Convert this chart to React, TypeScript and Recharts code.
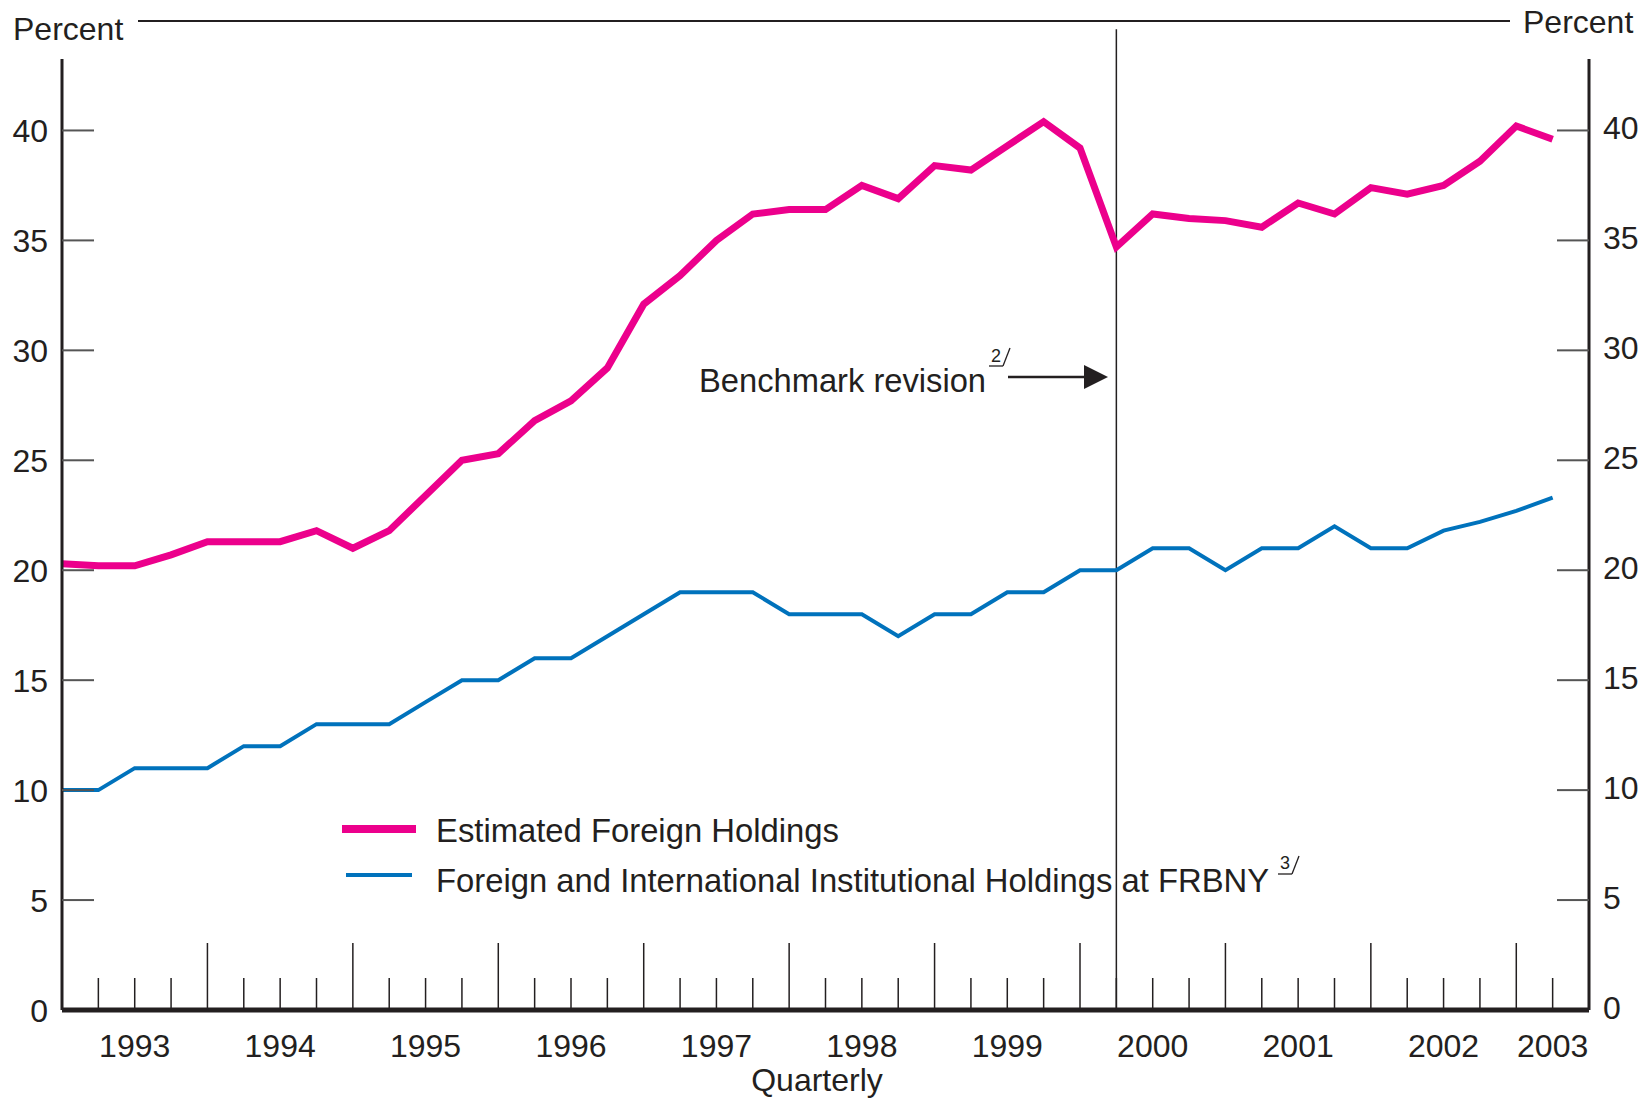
import { LineChart, Line, XAxis, YAxis, ReferenceLine } from "recharts";

// quarter ends, 1992:Q4 through 2003:Q1
const quarters = [
  "1992Q4",
  "1993Q1", "1993Q2", "1993Q3", "1993Q4",
  "1994Q1", "1994Q2", "1994Q3", "1994Q4",
  "1995Q1", "1995Q2", "1995Q3", "1995Q4",
  "1996Q1", "1996Q2", "1996Q3", "1996Q4",
  "1997Q1", "1997Q2", "1997Q3", "1997Q4",
  "1998Q1", "1998Q2", "1998Q3", "1998Q4",
  "1999Q1", "1999Q2", "1999Q3", "1999Q4",
  "2000Q1", "2000Q2", "2000Q3", "2000Q4",
  "2001Q1", "2001Q2", "2001Q3", "2001Q4",
  "2002Q1", "2002Q2", "2002Q3", "2002Q4",
  "2003Q1",
];

const estimatedForeign = [
  20.3, 20.2, 20.2, 20.7, 21.3, 21.3, 21.3, 21.8, 21.0, 21.8, 23.4, 25.0,
  25.3, 26.8, 27.7, 29.2, 32.1, 33.4, 35.0, 36.2, 36.4, 36.4, 37.5, 36.9,
  38.4, 38.2, 39.3, 40.4, 39.2, 34.7, 36.2, 36.0, 35.9, 35.6, 36.7, 36.2,
  37.4, 37.1, 37.5, 38.6, 40.2, 39.6,
];

const frbnyHoldings = [
  10, 10, 11, 11, 11, 12, 12, 13, 13, 13, 14, 15,
  15, 16, 16, 17, 18, 19, 19, 19, 18, 18, 18, 17,
  18, 18, 19, 19, 20, 20, 21, 21, 20, 21, 21, 22,
  21, 21, 21.8, 22.2, 22.7, 23.3,
];

const yTicks = [0, 5, 10, 15, 20, 25, 30, 35, 40];
const yearLabels: Record<number, string> = {
  2: "1993", 6: "1994", 10: "1995", 14: "1996", 18: "1997", 22: "1998",
  26: "1999", 30: "2000", 34: "2001", 38: "2002", 41: "2003",
};
const revisionIndex = 29;

const data = quarters.map((q, i) => ({
  i,
  q,
  est: estimatedForeign[i],
  frbny: frbnyHoldings[i],
}));
const xTicks = quarters.map((_, i) => i).filter((i) => i > 0);

const INK = "#231f20";
const PINK = "#ec008c";
const BLUE = "#0072bc";
const FONT = "'Liberation Sans', Arial, Helvetica, sans-serif";

function LeftTick(props: any) {
  const { x, y, payload } = props;
  return (
    <g>
      {payload.value !== 0 && (
        <line x1={x} x2={x + 32} y1={y} y2={y} stroke="#555" strokeWidth={2} />
      )}
      <text x={x - 14} y={y + 11.5} textAnchor="end" fontSize={32} fill={INK} fontFamily={FONT}>
        {payload.value}
      </text>
    </g>
  );
}

function RightTick(props: any) {
  const { x, y, payload } = props;
  return (
    <g>
      {payload.value !== 0 && (
        <line x1={x - 32} x2={x} y1={y} y2={y} stroke="#555" strokeWidth={2} />
      )}
      <text x={x + 14} y={y + 8.5} textAnchor="start" fontSize={32} fill={INK} fontFamily={FONT}>
        {payload.value}
      </text>
    </g>
  );
}

function BottomTick(props: any) {
  const { x, y, payload } = props;
  const i = payload.value as number;
  const tall = i % 4 === 0;
  const label = yearLabels[i];
  return (
    <g>
      <line x1={x} x2={x} y1={y} y2={y - (tall ? 67 : 32)} stroke={INK} strokeWidth={1.5} />
      {label && (
        <text x={x} y={y + 47} textAnchor="middle" fontSize={32} fill={INK} fontFamily={FONT}>
          {label}
        </text>
      )}
    </g>
  );
}

export default function App() {
  return (
    <div
      style={{
        position: "absolute",
        left: 0,
        top: 0,
        width: 1643,
        height: 1098,
        background: "#fff",
        fontFamily: FONT,
        color: INK,
      }}
    >
      <LineChart
        width={1643}
        height={1098}
        data={data}
        margin={{ top: 59, right: 0, left: 0, bottom: 0 }}
      >
        <XAxis
          dataKey="i"
          type="number"
          domain={[0, 42]}
          ticks={xTicks}
          interval={0}
          height={88}
          tickSize={0}
          tickMargin={0}
          tickLine={false}
          tick={<BottomTick />}
          axisLine={{ stroke: INK, strokeWidth: 5 }}
          allowDataOverflow
        />
        <YAxis
          yAxisId="left"
          orientation="left"
          width={62}
          domain={[0, 43.25]}
          ticks={yTicks}
          interval={0}
          tickSize={0}
          tickMargin={0}
          tickLine={false}
          tick={<LeftTick />}
          axisLine={{ stroke: INK, strokeWidth: 3 }}
          allowDataOverflow
        />
        <YAxis
          yAxisId="right"
          orientation="right"
          width={54}
          domain={[0, 43.25]}
          ticks={yTicks}
          interval={0}
          tickSize={0}
          tickMargin={0}
          tickLine={false}
          tick={<RightTick />}
          axisLine={{ stroke: INK, strokeWidth: 3 }}
          allowDataOverflow
        />
        <ReferenceLine
          yAxisId="left"
          segment={[
            { x: revisionIndex, y: 0 },
            { x: revisionIndex, y: 44.6 },
          ]}
          stroke={INK}
          strokeWidth={1.5}
          ifOverflow="visible"
        />
        <Line
          yAxisId="left"
          dataKey="frbny"
          stroke={BLUE}
          strokeWidth={4}
          dot={false}
          isAnimationActive={false}
        />
        <Line
          yAxisId="left"
          dataKey="est"
          stroke={PINK}
          strokeWidth={7}
          dot={false}
          isAnimationActive={false}
        />
      </LineChart>

      {/* header rule and unit labels */}
      <div style={{ position: "absolute", left: 13, top: 9, fontSize: 32, lineHeight: "40px" }}>
        Percent
      </div>
      <div style={{ position: "absolute", left: 1523, top: 2, fontSize: 32, lineHeight: "40px" }}>
        Percent
      </div>
      <div
        style={{
          position: "absolute",
          left: 138,
          top: 20,
          width: 1372,
          height: 0,
          borderTop: `2px solid ${INK}`,
        }}
      />
      <div
        style={{
          position: "absolute",
          left: 0,
          top: 1060,
          width: 1634,
          textAlign: "center",
          fontSize: 32,
          lineHeight: "40px",
        }}
      >
        Quarterly
      </div>

      {/* benchmark annotation */}
      <svg
        width={1643}
        height={1098}
        style={{ position: "absolute", left: 0, top: 0, pointerEvents: "none" }}
      >
        <text x={699} y={392} fontSize={32.7} fill={INK} fontFamily={FONT}>
          Benchmark revision
        </text>
        <text x={991} y={362} fontSize={18} fill={INK} fontFamily={FONT}>
          2
        </text>
        <line x1={989} x2={1003} y1={366} y2={366} stroke={INK} strokeWidth={1.3} />
        <line x1={1003} x2={1010} y1={366} y2={348} stroke={INK} strokeWidth={1.3} />
        <line x1={1008} x2={1086} y1={377} y2={377} stroke={INK} strokeWidth={2.5} />
        <polygon points="1084,365 1108,377 1084,389" fill={INK} />

        {/* legend */}
        <line x1={342} x2={416} y1={829} y2={829} stroke={PINK} strokeWidth={8} />
        <text x={436} y={842} fontSize={32.8} fill={INK} fontFamily={FONT}>
          Estimated Foreign Holdings
        </text>
        <line x1={346} x2={412} y1={875} y2={875} stroke={BLUE} strokeWidth={4} />
        <text x={436} y={892} fontSize={32.8} fill={INK} fontFamily={FONT}>
          Foreign and International Institutional Holdings at FRBNY
        </text>
        <text x={1280} y={869} fontSize={18} fill={INK} fontFamily={FONT}>
          3
        </text>
        <line x1={1278} x2={1292} y1={874} y2={874} stroke={INK} strokeWidth={1.3} />
        <line x1={1292} x2={1299} y1={874} y2={856} stroke={INK} strokeWidth={1.3} />
      </svg>
    </div>
  );
}
